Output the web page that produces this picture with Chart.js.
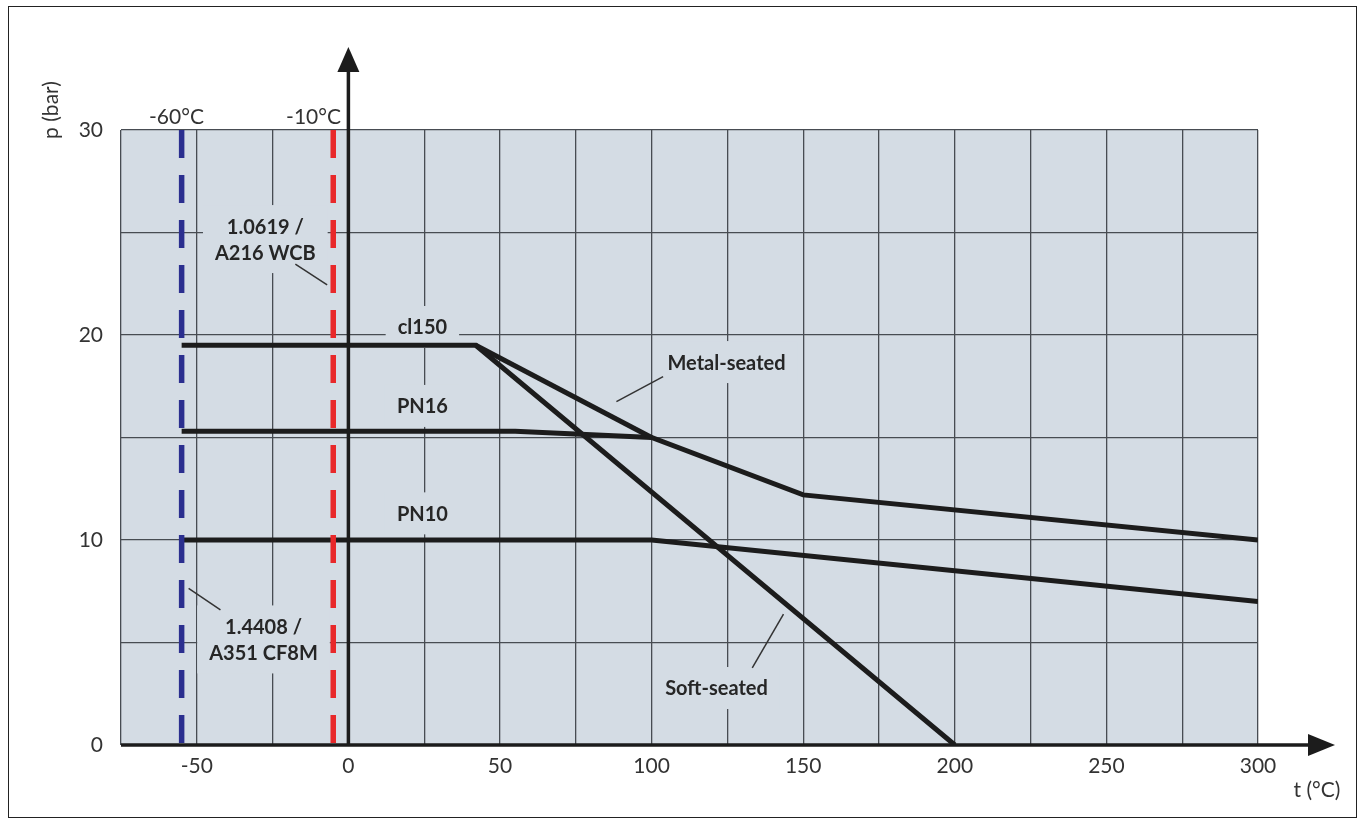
<!DOCTYPE html>
<html>
<head>
<meta charset="utf-8">
<script src="https://cdn.jsdelivr.net/npm/chart.js@4/dist/chart.umd.min.js"></script>
<style>
  html, body { margin: 0; padding: 0; background: #fff; }
  canvas { display: block; }
</style>
</head>
<body>
<canvas id="chart" width="1365" height="831"></canvas>
<script>
// axis ticks (labelled ones only, grid every 25 / 5)
const tTicks = [-50, 0, 50, 100, 150, 200, 250, 300];
const pTicks = [0, 10, 20, 30];

// pressure / temperature curves
const cl150SoftT = [-55, 42, 200];
const cl150SoftP = [19.5, 19.5, 0];
const cl150MetalT = [42, 100];
const cl150MetalP = [19.5, 15];
const pn16T = [-55, 55, 100, 150, 300];
const pn16P = [15.3, 15.3, 15, 12.2, 10];
const pn10T = [-55, 100, 300];
const pn10P = [10, 10, 7];

// material limits
const limitT = [-55, -5];
const limitNames = ['-60°C', '-10°C'];
const limitNameT = [-56.7, -11.5];

// leader lines for the notes
const leaderWcbT = [-17.5, -7.0];
const leaderWcbP = [23.46, 22.44];
const leaderCf8mT = [-52.7, -42.2];
const leaderCf8mP = [7.64, 6.59];
const leaderMetalT = [103.8, 88.4];
const leaderMetalP = [17.97, 16.75];
const leaderSoftT = [133.2, 143.5];
const leaderSoftP = [3.76, 6.39];

// notes inside the plot
const noteTexts = [['1.0619 /', 'A216 WCB'], ['cl150'], ['PN16'], ['PN10'], ['Metal-seated'], ['Soft-seated'], ['1.4408 /', 'A351 CF8M']];
const noteT = [-27.4, 24.4, 24.4, 24.4, 124.7, 121.4, -28.0];
const noteP = [24.68, 20.39, 16.54, 11.3, 18.68, 2.78, 5.15];

const PLOT_BG = '#d4dce4';
const INK = '#1c1c1c';
const FONT = 'Lato, "DejaVu Sans", sans-serif';

const pts = (ts, ps) => ts.map((t, i) => ({ x: t, y: ps[i] }));

function curve(ts, ps) {
  return { data: pts(ts, ps), borderColor: INK, borderWidth: 5, borderJoinStyle: 'miter', borderCapStyle: 'butt' };
}
function leader(ts, ps) {
  return { data: pts(ts, ps), borderColor: '#333', borderWidth: 1.5 };
}
function limit(t, color) {
  return { data: [{ x: t, y: 30 }, { x: t, y: 0 }], borderColor: color, borderWidth: 5.5, borderDash: [28, 17], borderCapStyle: 'butt' };
}

const decor = {
  id: 'decor',
  beforeDraw(chart) {
    const { ctx, chartArea: a } = chart;
    ctx.save();
    ctx.fillStyle = PLOT_BG;
    ctx.fillRect(a.left, a.top, a.right - a.left, a.bottom - a.top);
    ctx.strokeStyle = '#222';
    ctx.lineWidth = 1;
    ctx.strokeRect(8.5, 6.5, 1348, 811);
    ctx.restore();
  },
  beforeDatasetsDraw(chart) {
    const { ctx, chartArea: a, scales: { x, y } } = chart;
    ctx.save();
    ctx.font = 'bold 20px ' + FONT;
    ctx.textAlign = 'center';
    ctx.textBaseline = 'middle';
    const lh = 26;
    noteTexts.forEach((lines, i) => {
      const cx = x.getPixelForValue(noteT[i]);
      const cy = y.getPixelForValue(noteP[i]);
      const w = Math.max(...lines.map(l => ctx.measureText(l).width));
      const h = lines.length * lh;
      ctx.fillStyle = PLOT_BG;
      ctx.fillRect(cx - w / 2 - 12, cy - h / 2 - 8, w + 24, h + 16);
      ctx.fillStyle = '#262626';
      lines.forEach((l, j) => ctx.fillText(l, cx, cy - h / 2 + lh / 2 + j * lh + 1));
    });

    // limit temperatures above the plot
    ctx.font = '21px ' + FONT;
    ctx.fillStyle = '#333';
    limitNames.forEach((n, i) => ctx.fillText(n, x.getPixelForValue(limitNameT[i]), a.top - 13));

    // axis titles
    ctx.fillText('t (°C)', a.right + 59, a.bottom + 45);
    ctx.translate(a.left - 70, a.top - 20);
    ctx.rotate(-Math.PI / 2);
    ctx.fillText('p (bar)', 0, 0);
    ctx.restore();
  },
  afterDatasetsDraw(chart) {
    const { ctx, chartArea: a, scales: { x, y } } = chart;
    const x0 = x.getPixelForValue(0);
    const y0 = y.getPixelForValue(0);
    ctx.save();
    ctx.strokeStyle = INK;
    ctx.fillStyle = INK;
    ctx.lineWidth = 3.5;
    ctx.beginPath();
    ctx.moveTo(a.left, y0);
    ctx.lineTo(a.right + 55, y0);
    ctx.moveTo(x0, y0);
    ctx.lineTo(x0, a.top - 60);
    ctx.stroke();
    // arrow heads
    ctx.beginPath();
    ctx.moveTo(a.right + 77, y0);
    ctx.lineTo(a.right + 50, y0 - 11);
    ctx.lineTo(a.right + 50, y0 + 11);
    ctx.closePath();
    ctx.fill();
    ctx.beginPath();
    ctx.moveTo(x0, a.top - 83);
    ctx.lineTo(x0 - 11, a.top - 58);
    ctx.lineTo(x0 + 11, a.top - 58);
    ctx.closePath();
    ctx.fill();
    ctx.restore();
  }
};

new Chart(document.getElementById('chart'), {
  type: 'scatter',
  data: {
    datasets: [
      limit(limitT[1], '#e8282a'),
      limit(limitT[0], '#2b2f8f'),
      curve(cl150SoftT, cl150SoftP),
      curve(cl150MetalT, cl150MetalP),
      curve(pn16T, pn16P),
      curve(pn10T, pn10P),
      leader(leaderWcbT, leaderWcbP),
      leader(leaderCf8mT, leaderCf8mP),
      leader(leaderMetalT, leaderMetalP),
      leader(leaderSoftT, leaderSoftP)
    ]
  },
  options: {
    responsive: false,
    animation: false,
    devicePixelRatio: 1,
    events: [],
    showLine: true,
    elements: { point: { radius: 0 }, line: { tension: 0 } },
    layout: { padding: { left: 0, top: 130, right: 107, bottom: 46 } },
    plugins: { legend: { display: false }, tooltip: { enabled: false } },
    scales: {
      x: {
        type: 'linear',
        min: -75,
        max: 300,
        afterFit: s => { s.height = 40; },
        border: { display: false },
        grid: { color: '#474c52', lineWidth: 1.3, drawTicks: false },
        ticks: {
          stepSize: 25,
          autoSkip: false,
          maxRotation: 0,
          padding: 9,
          color: '#333',
          font: { family: FONT, size: 21 },
          callback: v => tTicks.includes(v) ? String(v) : ''
        }
      },
      y: {
        type: 'linear',
        min: 0,
        max: 30,
        afterFit: s => { s.width = 121; },
        border: { display: false },
        grid: { color: '#474c52', lineWidth: 1.3, drawTicks: false },
        ticks: {
          stepSize: 5,
          autoSkip: false,
          padding: 18,
          color: '#333',
          font: { family: FONT, size: 21 },
          callback: v => pTicks.includes(v) ? String(v) : ''
        }
      }
    }
  },
  plugins: [decor]
});
</script>
</body>
</html>
